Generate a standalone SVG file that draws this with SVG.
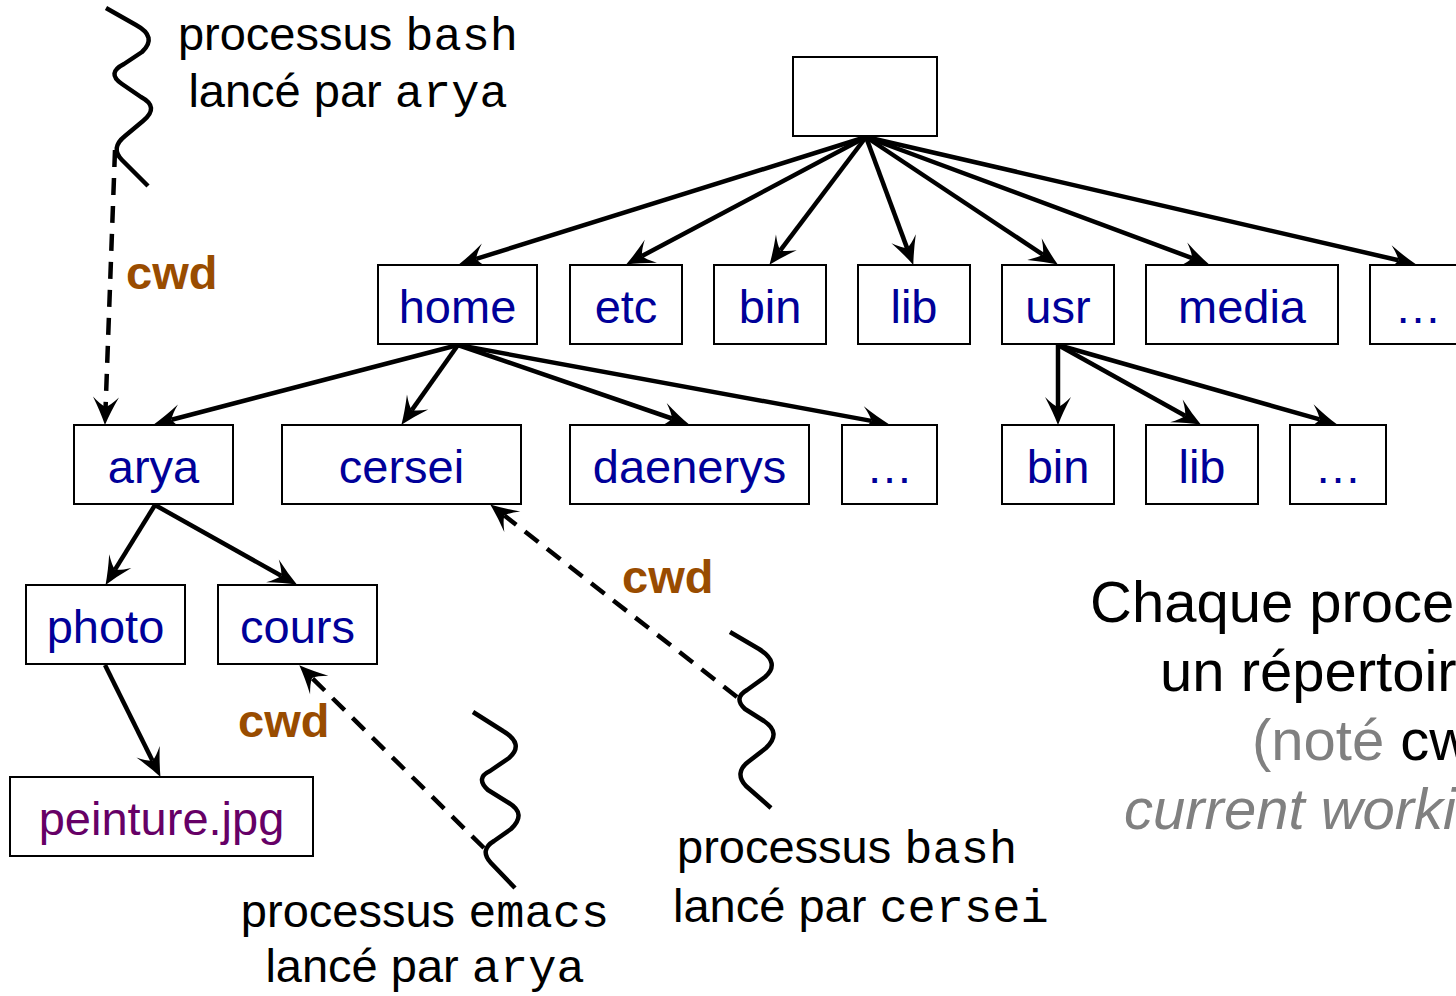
<svg xmlns="http://www.w3.org/2000/svg" width="1456" height="996" viewBox="0 0 1456 996">
<style>
.box{fill:#fff;stroke:#000;stroke-width:2}
.lbl{font-family:"Liberation Sans",Arial,sans-serif;font-size:47px;fill:#000099;text-anchor:middle}
.file{fill:#660066}
.edge{fill:none;stroke:#000;stroke-width:4.5;marker-end:url(#ah)}
.cwdl{fill:none;stroke:#000;stroke-width:4.5;stroke-dasharray:17 11;marker-end:url(#ah)}
.wave{fill:none;stroke:#000;stroke-width:4.5;stroke-linejoin:round}
.cwd{font-family:"Liberation Sans",Arial,sans-serif;font-size:47px;font-weight:bold;fill:#994c00}
.proc{font-family:"Liberation Sans",Arial,sans-serif;font-size:47px;fill:#000}
.mono{font-family:"Liberation Mono","Courier New",monospace;font-size:47px}
.note{font-family:"Liberation Sans",Arial,sans-serif;font-size:58px;fill:#000}
.gray{fill:#808080}
</style>
<defs>
<marker id="ah" markerUnits="userSpaceOnUse" orient="auto" refX="0" refY="0" markerWidth="60" markerHeight="60" viewBox="-30 -30 60 60" overflow="visible">
<path d="M18,0 Q5,-5 -10,-13 Q-2,-5 0,0 Q-2,5 -10,13 Q5,5 18,0 Z" fill="#000"/>
</marker>
</defs>

<g id="connectors">
<path class="edge" d="M866,137 L476.2,258.9"/>
<path class="edge" d="M866,137 L642,256"/>
<path class="edge" d="M866,137 L780.3,250.4"/>
<path class="edge" d="M866,137 L907.1,248.1"/>
<path class="edge" d="M866,137 L1042.8,254.6"/>
<path class="edge" d="M866,137 L1192.1,258.1"/>
<path class="edge" d="M866,137 L1398.4,260.2"/>
<path class="edge" d="M458,345 L171.5,419.7"/>
<path class="edge" d="M458,345 L411.8,410.1"/>
<path class="edge" d="M458,345 L671.9,418.5"/>
<path class="edge" d="M458,345 L871.3,420.9"/>
<path class="edge" d="M1058,345 L1058,407"/>
<path class="edge" d="M1058,345 L1185.1,415.7"/>
<path class="edge" d="M1058,345 L1319.6,419.4"/>
<path class="edge" d="M155,505 L115,569.6"/>
<path class="edge" d="M155,505 L281.2,575.7"/>
<path class="edge" d="M105,665 L152.5,760.8"/>
<path class="cwdl" d="M115,150 L105.6,407"/>
<path class="cwdl" d="M737,697 L504.4,515.5"/>
<path class="cwdl" d="M484,848 L312.1,678"/>
</g>

<g id="root"><rect class="box" x="793" y="57" width="144" height="79"/></g>
<g id="home"><rect class="box" x="378" y="265" width="159" height="79"/><text class="lbl" x="457.5" y="323">home</text></g>
<g id="etc"><rect class="box" x="570" y="265" width="112" height="79"/><text class="lbl" x="626" y="323">etc</text></g>
<g id="bin"><rect class="box" x="714" y="265" width="112" height="79"/><text class="lbl" x="770" y="323">bin</text></g>
<g id="lib"><rect class="box" x="858" y="265" width="112" height="79"/><text class="lbl" x="914" y="323">lib</text></g>
<g id="usr"><rect class="box" x="1002" y="265" width="112" height="79"/><text class="lbl" x="1058" y="323">usr</text></g>
<g id="media"><rect class="box" x="1146" y="265" width="192" height="79"/><text class="lbl" x="1242" y="323">media</text></g>
<g id="more1"><rect class="box" x="1370" y="265" width="100" height="79"/><text class="lbl" x="1418" y="323">…</text></g>

<g id="arya"><rect class="box" x="74" y="425" width="159" height="79"/><text class="lbl" x="153.5" y="483">arya</text></g>
<g id="cersei"><rect class="box" x="282" y="425" width="239" height="79"/><text class="lbl" x="401.5" y="483">cersei</text></g>
<g id="daenerys"><rect class="box" x="570" y="425" width="239" height="79"/><text class="lbl" x="689.5" y="483">daenerys</text></g>
<g id="more2"><rect class="box" x="842" y="425" width="95" height="79"/><text class="lbl" x="889.5" y="483">…</text></g>
<g id="usrbin"><rect class="box" x="1002" y="425" width="112" height="79"/><text class="lbl" x="1058" y="483">bin</text></g>
<g id="usrlib"><rect class="box" x="1146" y="425" width="112" height="79"/><text class="lbl" x="1202" y="483">lib</text></g>
<g id="more3"><rect class="box" x="1290" y="425" width="96" height="79"/><text class="lbl" x="1338" y="483">…</text></g>

<g id="photo"><rect class="box" x="26" y="585" width="159" height="79"/><text class="lbl" x="105.5" y="643">photo</text></g>
<g id="cours"><rect class="box" x="218" y="585" width="159" height="79"/><text class="lbl" x="297.5" y="643">cours</text></g>
<g id="peinture"><rect class="box" x="10" y="777" width="303" height="79"/><text class="lbl file" x="161.5" y="835">peinture.jpg</text></g>

<g id="proc-bash-arya">
<path class="wave" d="M106,8 L136,25 Q158,37 142,52 L124,64 Q106,73 122,84 L141,97 Q160,107 143,121 L125,136 Q110,148 122,160 L148,186"/>
<text class="proc" x="348" y="50" text-anchor="middle">processus <tspan class="mono">bash</tspan></text>
<text class="proc" x="348" y="107" text-anchor="middle">lancé par <tspan class="mono">arya</tspan></text>
</g>
<g id="proc-bash-cersei">
<path class="wave" d="M730,632 L759,649 Q781,663 765,677 L747,690 Q733,698 745,709 L764,721 Q782,733 766,748 L748,762 Q734,773 746,786 L771,808"/>
<text class="proc" x="677" y="863">processus <tspan class="mono">bash</tspan></text>
<text class="proc" x="673" y="922">lancé par <tspan class="mono">cersei</tspan></text>
</g>
<g id="proc-emacs-arya">
<path class="wave" d="M473,712 L503,731 Q525,744 509,758 L490,771 Q475,778 488,790 L509,803 Q527,814 511,829 L494,841 Q479,850 491,863 L515,888"/>
<text class="proc" x="425" y="927" text-anchor="middle">processus <tspan class="mono">emacs</tspan></text>
<text class="proc" x="425" y="982" text-anchor="middle">lancé par <tspan class="mono">arya</tspan></text>
</g>

<g id="cwd-labels">
<text class="cwd" x="126" y="289">cwd</text>
<text class="cwd" x="622" y="593">cwd</text>
<text class="cwd" x="238" y="737">cwd</text>
</g>

<g id="note">
<text class="note" x="1090" y="622">Chaque proce</text>
<text class="note" x="1160" y="691">un répertoir</text>
<text class="note" x="1252" y="760"><tspan class="gray">(noté </tspan>cw</text>
<text class="note gray" x="1124" y="829" font-style="italic">current worki</text>
</g>
</svg>
